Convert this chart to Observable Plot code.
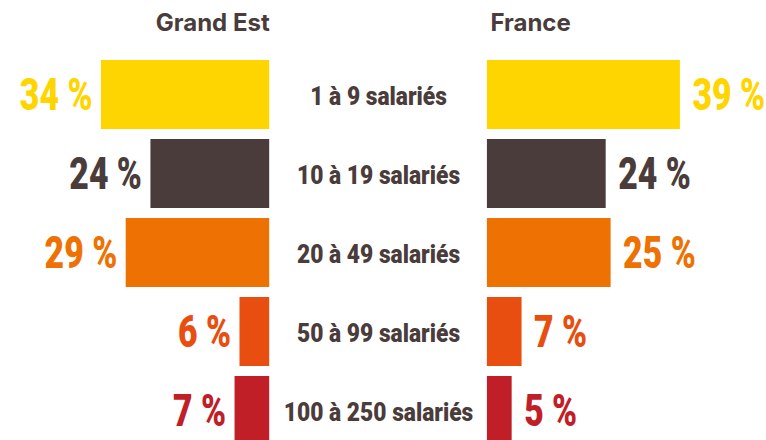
<!DOCTYPE html>
<html>
<head>
<meta charset="utf-8">
<script src="https://cdn.jsdelivr.net/npm/d3@7"></script>
<script src="https://cdn.jsdelivr.net/npm/@observablehq/plot@0.6"></script>
<style>
  html, body { margin: 0; padding: 0; background: #fff; }
  #chart svg { display: block; }
</style>
</head>
<body>
<div id="chart"></div>
<script>
const categories = ["1 à 9 salariés", "10 à 19 salariés", "20 à 49 salariés", "50 à 99 salariés", "100 à 250 salariés"];
const grandEst = [34, 24, 29, 6, 7];
const france = [39, 24, 25, 7, 5];
const colors = ["#FFD500", "#4A3C3B", "#EE7203", "#E84E0F", "#C01F28"];
const titles = ["Grand Est", "France"];

const GAP = 22; // half gap between the two bar groups, in % units
const rows = categories.map((c, i) => ({cat: c, ge: grandEst[i], fr: france[i]}));
const condFont = "Roboto, 'DejaVu Sans', sans-serif";

const chart = Plot.plot({
  width: 766,
  height: 440,
  margin: 0,
  style: {background: "#fff", overflow: "hidden"},
  x: {domain: [-76.4, 78.4], axis: null},
  y: {domain: categories, range: [53, 452], paddingInner: 0.122, paddingOuter: 0.061, axis: null},
  color: {domain: categories, range: colors},
  marks: [
    Plot.barX(rows, {x1: -GAP, x2: d => -GAP - d.ge, y: "cat", fill: "cat"}),
    Plot.barX(rows, {x1: GAP, x2: d => GAP + d.fr, y: "cat", fill: "cat"}),
    Plot.text(rows, {x: d => -GAP - d.ge, y: "cat", text: d => d.ge + " %", fill: "cat", ariaLabel: () => "pct",
      textAnchor: "end", dx: -9, dy: 1, fontSize: 45, fontWeight: 900, fontFamily: condFont}),
    Plot.text(rows, {x: d => GAP + d.fr, y: "cat", text: d => d.fr + " %", fill: "cat", ariaLabel: () => "pct",
      textAnchor: "start", dx: 12, dy: 1, fontSize: 45, fontWeight: 900, fontFamily: condFont}),
    Plot.text(rows, {x: 0, y: "cat", text: "cat", fill: "#4A3C3B", textAnchor: "middle", ariaLabel: () => "cat",
      dy: 2, fontSize: 26.5, fontWeight: 900, fontFamily: condFont}),
    Plot.text([titles[0]], {x: -GAP, frameAnchor: "top", textAnchor: "end", lineAnchor: "top", dy: 13,
      fill: "#4A3C3B", fontSize: 24, fontWeight: "bold", fontFamily: "Inter, Roboto, sans-serif"}),
    Plot.text([titles[1]], {x: GAP, frameAnchor: "top", textAnchor: "start", lineAnchor: "top", dy: 13, dx: 3,
      fill: "#4A3C3B", fontSize: 24, fontWeight: "bold", fontFamily: "Inter, Roboto, sans-serif"})
  ]
});

// horizontally condense the text labels (the reference uses a condensed typeface)
function condense(label, sx) {
  chart.querySelectorAll(`text[aria-label="${label}"], g[aria-label="${label}"] text`).forEach(t => {
    const tr = t.getAttribute("transform");
    if (tr) t.setAttribute("transform", `${tr} scale(${sx},1)`);
  });
}
condense("pct", 0.75);
condense("cat", 0.86);
document.getElementById("chart").append(chart);
</script>
</body>
</html>
